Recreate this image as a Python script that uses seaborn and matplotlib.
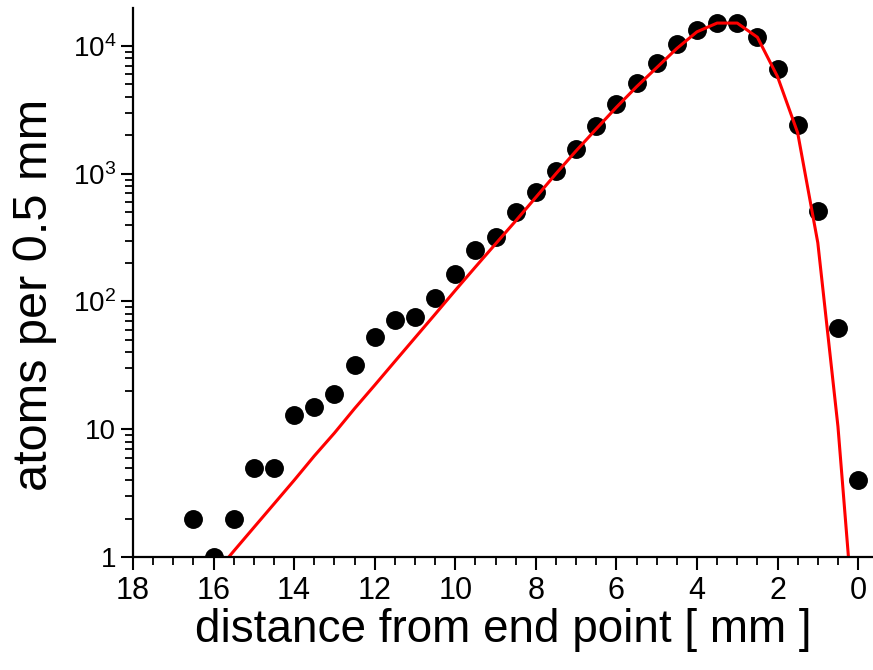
import numpy as np
import pandas as pd
import matplotlib
matplotlib.use("Agg")
import matplotlib.pyplot as plt
import seaborn as sns
from matplotlib.ticker import FixedLocator, FuncFormatter, LogLocator, NullFormatter, MultipleLocator

# measured points: distance from end point (mm) vs atoms per 0.5 mm
dist = [16.5, 16.0, 15.5, 15.0, 14.5, 14.0, 13.5, 13.0, 12.5, 12.0, 11.5, 11.0,
        10.5, 10.0, 9.5, 9.0, 8.5, 8.0, 7.5, 7.0, 6.5, 6.0, 5.5, 5.0, 4.5, 4.0,
        3.5, 3.0, 2.5, 2.0, 1.5, 1.0, 0.5, 0.0]
atoms = [2, 1, 2, 5, 5, 13, 15, 19, 32, 53, 71, 76,
         106, 165, 255, 322, 505, 723, 1055, 1570, 2370, 3520, 5140, 7370, 10400, 13300,
         15200, 15100, 11800, 6600, 2420, 515, 62, 4]

# fitted curve
fit_x = [16.0, 15.5, 15.0, 14.5, 14.0, 13.5, 13.0, 12.5, 12.0, 11.5, 11.0, 10.5,
         10.0, 9.5, 9.0, 8.5, 8.0, 7.5, 7.0, 6.5, 6.0, 5.5, 5.0, 4.5, 4.0, 3.5,
         3.0, 2.5, 2.0, 1.5, 1.0, 0.5, 0.0]
fit_y = [0.72, 1.11, 1.70, 2.60, 3.98, 6.17, 9.33, 14.5, 22.1, 33.9, 51.9, 79.4,
         122, 186, 282, 427, 653, 1000, 1510, 2240, 3310, 4790, 6760, 9550, 12900, 15100,
         15100, 11700, 5750, 2090, 288, 10.5, 0.115]

pts = pd.DataFrame({"dist": dist, "atoms": atoms})
fit = pd.DataFrame({"dist": fit_x, "atoms": fit_y})

sns.set_style("ticks")
plt.rcParams["font.family"] = ["Liberation Sans", "DejaVu Sans"]
plt.rcParams["mathtext.fontset"] = "custom"
plt.rcParams["mathtext.rm"] = "Liberation Sans"
plt.rcParams["mathtext.it"] = "Liberation Sans"
for k in ["text.color", "axes.labelcolor", "xtick.color", "ytick.color", "axes.edgecolor"]:
    plt.rcParams[k] = "black"

fig = plt.figure(figsize=(8.73, 6.70), dpi=100)
ax = fig.add_axes([0.1523, 0.1687, 0.8477, 0.8193])

sns.scatterplot(data=pts, x="dist", y="atoms", ax=ax, color="black", s=185,
                edgecolor="black", linewidth=0, zorder=2)
sns.lineplot(data=fit, x="dist", y="atoms", ax=ax, color="#ff0000", linewidth=2.2,
             zorder=3, sort=False)

ax.set_yscale("log")
ax.set_ylim(1, 19800)
ax.set_xlim(18, -0.37)

ax.xaxis.set_major_locator(MultipleLocator(2))
ax.xaxis.set_minor_locator(MultipleLocator(0.5))
ax.yaxis.set_major_locator(FixedLocator([1, 10, 100, 1000, 10000]))
ax.yaxis.set_minor_locator(LogLocator(base=10, subs=np.arange(2, 10)))
ax.yaxis.set_minor_formatter(NullFormatter())

def ylab(v, pos):
    labels = {1: "1", 10: "10", 100: r"$10^2$", 1000: r"$10^3$", 10000: r"$10^4$"}
    return labels.get(int(round(v)), "")

ax.yaxis.set_major_formatter(FuncFormatter(ylab))
ax.xaxis.set_major_formatter(FuncFormatter(lambda v, p: f"{v:g}"))

sns.despine(ax=ax)
for s in ["left", "bottom"]:
    ax.spines[s].set_linewidth(1.6)
    ax.spines[s].set_zorder(4)
ax.tick_params(which="major", length=9, width=1.5, direction="out")
ax.tick_params(which="minor", length=5.5, width=1.3, direction="out")
ax.tick_params(axis="x", which="major", pad=5, labelsize=22)
ax.tick_params(axis="y", which="major", pad=3, labelsize=20)

ax.set_xlabel("distance from end point [ mm ]", fontsize=33, labelpad=1)
ax.set_ylabel("atoms per 0.5 mm", fontsize=35)
ax.yaxis.set_label_coords(-0.103, 0.477)

fig.savefig("out.png", dpi=100)
